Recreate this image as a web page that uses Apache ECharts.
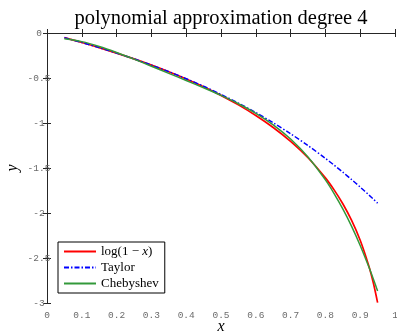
<!DOCTYPE html>
<html>
<head>
<meta charset="utf-8">
<script src="https://cdn.jsdelivr.net/npm/echarts@6/dist/echarts.min.js"></script>
<style>
  html, body { margin: 0; padding: 0; background: #fff; }
  #chart { width: 397px; height: 335px; }
</style>
</head>
<body>
<div id="chart"></div>
<script>
const xValues = [0.05, 0.1, 0.15, 0.2, 0.25, 0.3, 0.35, 0.4, 0.45, 0.5, 0.55, 0.6, 0.65, 0.7, 0.75, 0.8, 0.825, 0.85, 0.875, 0.9, 0.925, 0.9375, 0.95]
const logValues = [-0.0513, -0.1054, -0.1625, -0.2231, -0.2877, -0.3567, -0.4308, -0.5108, -0.5978, -0.6931, -0.7985, -0.9163, -1.0498, -1.2040, -1.3863, -1.6094, -1.7430, -1.8971, -2.0794, -2.3026, -2.5903, -2.7726, -2.9957]
const taylorValues = [-0.0513, -0.1054, -0.1625, -0.2231, -0.2874, -0.3560, -0.4293, -0.5077, -0.5919, -0.6823, -0.7796, -0.8844, -0.9974, -1.1194, -1.2510, -1.3931, -1.4683, -1.5465, -1.6277, -1.7120, -1.7997, -1.8447, -1.8907]
const chebValues = [-0.0636, -0.0960, -0.1493, -0.2162, -0.2907, -0.3688, -0.4480, -0.5276, -0.6085, -0.6931, -0.7858, -0.8923, -1.0202, -1.1786, -1.3786, -1.6324, -1.7840, -1.9545, -2.1459, -2.3605, -2.6004, -2.7306, -2.8680]
const xTicks = { min: 0, max: 1, interval: 0.1 }
const yTicks = { min: -3, max: 0, interval: 0.5 }

const zip = (ys) => xValues.map((x, i) => [x, ys[i]])

const tickFont = { fontFamily: 'Liberation Mono', fontSize: 9.5, color: '#6b6b6b' }
const axisColor = '#262626'

var myChart = echarts.init(document.getElementById('chart'))
const option = {
  animation: false,
  title: {
    text: 'polynomial approximation degree 4',
    left: 216,
    top: 3,
    textAlign: 'center',
    textStyle: { fontFamily: 'Liberation Serif', fontSize: 20.5, fontWeight: 'normal', color: '#000' },
  },
  grid: { left: 47, right: 2, top: 33, bottom: 32, outerBoundsMode: 'none' },
  legend: {
    orient: 'vertical',
    left: 58,
    top: 242,
    padding: [3, 6, 3, 5],
    itemGap: 3,
    itemWidth: 32,
    itemHeight: 12,
    itemStyle: { opacity: 0 },
    borderColor: '#000',
    borderWidth: 1,
    backgroundColor: '#fff',
    textStyle: {
      fontFamily: 'Liberation Serif',
      fontSize: 13,
      color: '#000',
      rich: { i: { fontFamily: 'Liberation Serif', fontStyle: 'italic', fontSize: 13, color: '#000' } },
    },
    formatter: (name) => (name === 'log(1 − x)' ? 'log(1 − {i|x})' : name),
    data: ['log(1 − x)', 'Taylor', 'Chebyshev'],
  },
  xAxis: [
    {
      type: 'value',
      ...xTicks,
      name: 'x',
      nameLocation: 'middle',
      nameGap: 16,
      nameMoveOverlap: false,
      nameTextStyle: { fontFamily: 'Liberation Serif', fontStyle: 'italic', fontSize: 16, color: '#000' },
      axisLine: { lineStyle: { color: axisColor, width: 1 } },
      axisTick: { inside: true, length: 4, lineStyle: { color: axisColor } },
      axisLabel: { ...tickFont, margin: 7 },
      splitLine: { show: false },
    },
    {
      type: 'value',
      ...xTicks,
      position: 'top',
      axisLine: { lineStyle: { color: axisColor, width: 1 } },
      axisTick: { inside: true, length: 4, lineStyle: { color: axisColor } },
      axisLabel: { show: false },
      splitLine: { show: false },
    },
  ],
  yAxis: [
    {
      type: 'value',
      ...yTicks,
      name: 'y',
      nameLocation: 'middle',
      nameGap: 26,
      nameMoveOverlap: false,
      nameRotate: 90,
      nameTextStyle: { fontFamily: 'Liberation Serif', fontStyle: 'italic', fontSize: 16, color: '#000' },
      axisLine: { show: true, lineStyle: { color: axisColor, width: 1 } },
      axisTick: { show: true, inside: true, length: 4, lineStyle: { color: axisColor } },
      axisLabel: { ...tickFont, margin: 8, align: 'center' },
      splitLine: { show: false },
    },
    {
      type: 'value',
      ...yTicks,
      position: 'right',
      axisLine: { show: true, lineStyle: { color: axisColor, width: 1 } },
      axisTick: { show: true, inside: true, length: 4, lineStyle: { color: axisColor } },
      axisLabel: { show: false },
      splitLine: { show: false },
    },
  ],
  series: [
    {
      name: 'log(1 − x)',
      type: 'line',
      smooth: 0.3,
      symbol: 'none',
      color: '#ff0000',
      lineStyle: { color: '#ff0000', width: 1.7 },
      data: zip(logValues),
    },
    {
      name: 'Taylor',
      type: 'line',
      smooth: 0.3,
      symbol: 'none',
      color: '#0000ff',
      lineStyle: { color: '#0000ff', width: 1.5, type: [5, 2, 1.5, 2] },
      data: zip(taylorValues),
    },
    {
      name: 'Chebyshev',
      type: 'line',
      smooth: 0.3,
      symbol: 'none',
      color: '#33993a',
      lineStyle: { color: '#33993a', width: 1.5 },
      data: zip(chebValues),
    },
  ],
}

myChart.setOption(option)
</script>
</body>
</html>
